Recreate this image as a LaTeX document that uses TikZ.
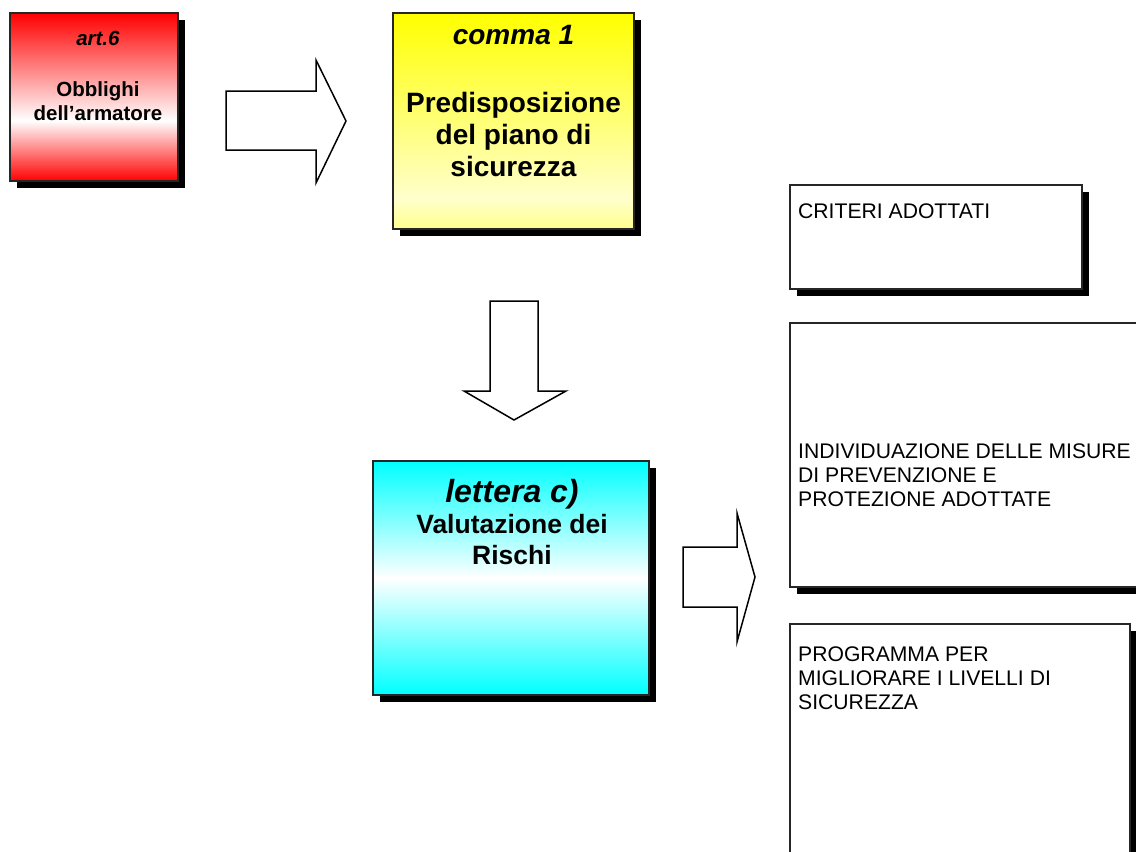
\documentclass[tikz,border=0pt]{standalone}
\usepackage{fontspec}
\setmainfont{Liberation Sans}
\usetikzlibrary{positioning,shadows}

\pgfdeclareverticalshading{rosso}{100bp}{color(0bp)=(red); color(25bp)=(red); color(43bp)=(white); color(75bp)=(red); color(100bp)=(red)}
\pgfdeclareverticalshading{giallo}{100bp}{color(0bp)=(yellow!45); color(25bp)=(yellow!45); color(32bp)=(yellow!20); color(75bp)=(yellow); color(100bp)=(yellow)}
\pgfdeclareverticalshading{ciano}{100bp}{color(0bp)=(cyan); color(25bp)=(cyan); color(50bp)=(white); color(75bp)=(cyan); color(100bp)=(cyan)}

\begin{document}
\begin{tikzpicture}[x=1pt,y=-1pt,line join=miter]
        \tikzstyle{box}=[rectangle,draw=black!85,line width=1.5pt,anchor=north west,inner sep=0pt,outer sep=0pt,drop shadow={shadow xshift=7pt,shadow yshift=-7pt,opacity=1,fill=black}]
        \tikzstyle{titolo}=[align=center,inner sep=0pt]
        \tikzstyle{voce}=[align=left,inner sep=0pt,font=\fontsize{21.15}{24}\selectfont]
        \tikzstyle{freccia}=[draw=black,fill=white,line width=1.5pt]
        \useasboundingbox (0,0) rectangle (1136,852);
        \clip (0,0) rectangle (1136,852);

        % riquadri colorati
        \node [box,shade,shading=rosso,minimum width=168pt,minimum height=168pt] (art) at (10,13) {};
        \node [box,shade,shading=giallo,minimum width=241pt,minimum height=216pt] (comma) at (393,13) {};
        \node [box,shade,shading=ciano,minimum width=276pt,minimum height=234pt] (lettera) at (373,461) {};

        \node [titolo,font=\fontsize{20.5}{23.5}\selectfont\bfseries,below=18pt of art.north,xshift=4pt] (artt) {\textit{art.6}\\[27.5pt]Obblighi\\dell’armatore};
        \node [titolo,font=\fontsize{28}{32}\selectfont\bfseries,below=12pt of comma.north] (commat) {\textit{comma 1}\\[36pt]Predisposizione\\del piano di\\sicurezza};
        \node [titolo,font=\fontsize{26.5}{31}\selectfont\bfseries,below=18pt of lettera.north,xshift=1pt] (letterat) {{\fontsize{32}{36}\selectfont\itshape lettera c)}\\Valutazione dei\\Rischi};

        % riquadri bianchi
        \node [box,fill=white,minimum width=292pt,minimum height=104pt] (criteri) at (790,185) {};
        \node [box,fill=white,minimum width=400pt,minimum height=264pt] (misure) at (790,323) {};
        \node [box,fill=white,minimum width=340pt,minimum height=260pt] (programma) at (790,624) {};

        \node [voce,below right=19pt and 8pt of criteri.north west] (criterit) {CRITERI ADOTTATI};
        \node [voce,below right=121pt and 8pt of misure.north west] (misuret) {INDIVIDUAZIONE DELLE MISURE\\DI PREVENZIONE E\\PROTEZIONE ADOTTATE};
        \node [voce,below right=23pt and 8pt of programma.north west] (programmat) {PROGRAMMA PER\\MIGLIORARE I LIVELLI DI\\SICUREZZA};

        % frecce
        \draw [freccia] (226,91) -- (316,91) -- (316,60) -- (346,121) -- (316,183) -- (316,150) -- (226,150) -- cycle;
        \draw [freccia] (490,301) -- (538,301) -- (538,391) -- (566,391) -- (514,420) -- (464,391) -- (490,391) -- cycle;
        \draw [freccia] (683,547) -- (737,547) -- (737,513) -- (755,577) -- (737,642) -- (737,607) -- (683,607) -- cycle;
\end{tikzpicture}
\end{document}
